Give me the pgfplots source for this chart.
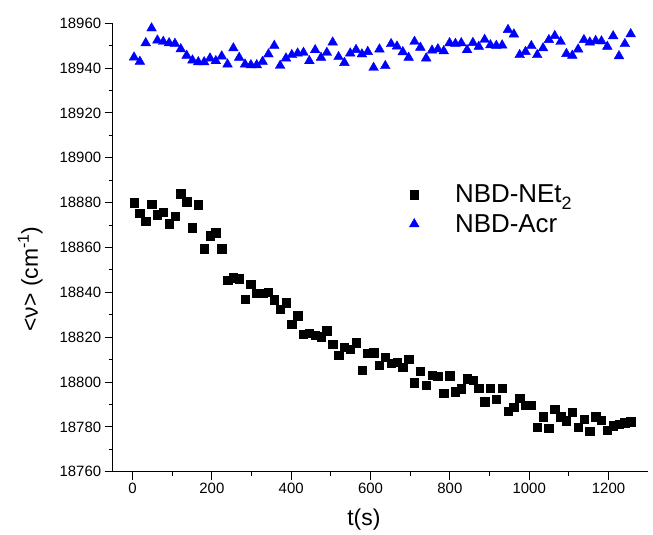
\documentclass[border=0pt]{standalone}
\usepackage{pgfplots}
\usepackage{pgfplotstable}
\usepackage{fontspec}
\setmainfont{Liberation Sans}
\pgfplotsset{compat=1.18}

\pgfplotstableread{
t v
3.8 18880.0
18.5 18875.4
33.3 18871.7
48.0 18879.4
62.7 18874.6
77.5 18875.7
92.2 18870.6
106.9 18873.9
121.6 18884.0
136.4 18880.4
151.1 18868.9
165.8 18879.1
180.6 18859.5
195.3 18865.2
210.0 18866.6
224.8 18859.5
239.5 18845.5
254.2 18846.6
268.9 18846.1
283.7 18837.1
298.4 18843.6
313.1 18839.6
327.9 18839.6
342.6 18840.2
357.3 18836.7
372.1 18832.6
386.8 18835.4
401.5 18825.9
416.2 18829.6
431.0 18821.3
445.7 18821.8
460.4 18820.9
475.2 18820.2
489.9 18822.9
504.6 18816.9
519.4 18812.1
534.1 18815.5
548.8 18814.6
563.5 18817.6
578.3 18805.3
593.0 18813.0
607.7 18813.1
622.5 18807.6
637.2 18811.2
651.9 18808.5
666.7 18809.0
681.4 18806.6
696.1 18810.3
710.8 18799.7
725.6 18804.8
740.3 18798.7
755.0 18803.2
769.8 18802.6
784.5 18795.0
799.2 18802.9
814.0 18795.7
828.7 18797.1
843.4 18801.5
858.1 18800.9
872.9 18797.2
887.6 18791.3
902.3 18797.2
917.1 18792.3
931.8 18797.2
946.5 18787.1
961.3 18788.9
976.0 18792.7
990.7 18789.8
1005.4 18789.8
1020.2 18779.8
1034.9 18784.6
1049.6 18779.5
1064.4 18788.0
1079.1 18784.6
1093.8 18782.8
1108.6 18786.7
1123.3 18780.0
1138.0 18783.5
1152.7 18778.1
1167.5 18784.6
1182.2 18783.0
1196.9 18778.5
1211.7 18780.6
1226.4 18781.3
1241.1 18781.9
1255.9 18782.3
}\netdata

\pgfplotstableread{
t v
3.8 18944.8
18.5 18942.9
33.3 18951.2
48.0 18957.8
62.7 18952.4
77.5 18951.8
92.2 18951.2
106.9 18950.9
121.6 18948.5
136.4 18945.6
151.1 18943.5
165.8 18942.7
180.6 18942.7
195.3 18944.4
210.0 18943.2
224.8 18945.3
239.5 18941.7
254.2 18948.9
268.9 18944.7
283.7 18941.7
298.4 18941.4
313.1 18941.4
327.9 18942.9
342.6 18946.2
357.3 18950.0
372.1 18941.1
386.8 18944.4
401.5 18945.9
416.2 18946.6
431.0 18946.9
445.7 18943.2
460.4 18948.1
475.2 18944.7
489.9 18946.9
504.6 18951.5
519.4 18945.0
534.1 18942.4
548.8 18946.6
563.5 18948.2
578.3 18946.2
593.0 18947.3
607.7 18940.2
622.5 18948.4
637.2 18941.0
651.9 18950.8
666.7 18949.7
681.4 18947.2
696.1 18944.7
710.8 18951.8
725.6 18949.2
740.3 18944.4
755.0 18947.9
769.8 18948.5
784.5 18947.6
799.2 18951.2
814.0 18950.9
828.7 18951.2
843.4 18948.1
858.1 18951.3
872.9 18949.6
887.6 18952.7
902.3 18950.3
917.1 18950.0
931.8 18950.2
946.5 18957.1
961.3 18955.1
976.0 18945.9
990.7 18947.3
1005.4 18949.9
1020.2 18945.9
1034.9 18948.9
1049.6 18952.6
1064.4 18954.4
1079.1 18951.8
1093.8 18946.4
1108.6 18945.6
1123.3 18948.4
1138.0 18952.6
1152.7 18951.5
1167.5 18952.2
1182.2 18952.0
1196.9 18949.6
1211.7 18954.3
1226.4 18945.4
1241.1 18950.8
1255.9 18955.2
}\acrdata

\begin{document}
\begin{tikzpicture}
\begin{axis}[
  scale only axis,
  width=535.5bp, height=448.5bp,
  xmin=-50, xmax=1300,
  ymin=18760, ymax=18960,
  axis lines=left,
  axis line style={-, line width=1.1bp},
  enlargelimits=false,
  xtick={0,200,...,1200},
  ytick={18760,18780,...,18960},
  minor x tick num=1,
  minor y tick num=1,
  tick align=outside,
  major tick length=8bp,
  minor tick length=4bp,
  tick style={black, line width=1bp},
  scaled ticks=false,
  /pgf/number format/fixed,
  /pgf/number format/precision=0,
  /pgf/number format/assume math mode=true,
  /pgf/number format/set thousands separator={},
  ticklabel style={font=\fontsize{15}{18}\selectfont},
  xlabel={t(s)},
  ylabel={<ν> (cm\textsuperscript{-1})},
  label style={font=\fontsize{23}{27}\selectfont},
  xlabel style={at={(axis description cs:0.469,-0.107)}, anchor=center},
  ylabel style={at={(axis description cs:-0.154,0.43)}, anchor=center, rotate=0},
  legend style={at={(axis cs:690,18877)}, anchor=west, draw=none, fill=none,
    font=\fontsize{26}{30}\selectfont, row sep=6bp, column sep=34bp},
  legend cell align=left,
]
\addplot[only marks, mark=square*, mark size=4.2bp, black] table[x=t,y=v]{\netdata};
\addlegendentry{NBD-NEt\raisebox{-7bp}{\fontsize{18}{18}\selectfont 2}}
\addplot[only marks, mark=triangle*, mark size=5.6bp, color={rgb,255:red,0;green,0;blue,255}] table[x=t,y=v]{\acrdata};
\addlegendentry{NBD-Acr}
\end{axis}
\pgfresetboundingbox
\useasboundingbox (-112.7bp,-63.2bp) rectangle (540.3bp,471.8bp);
\end{tikzpicture}
\end{document}
